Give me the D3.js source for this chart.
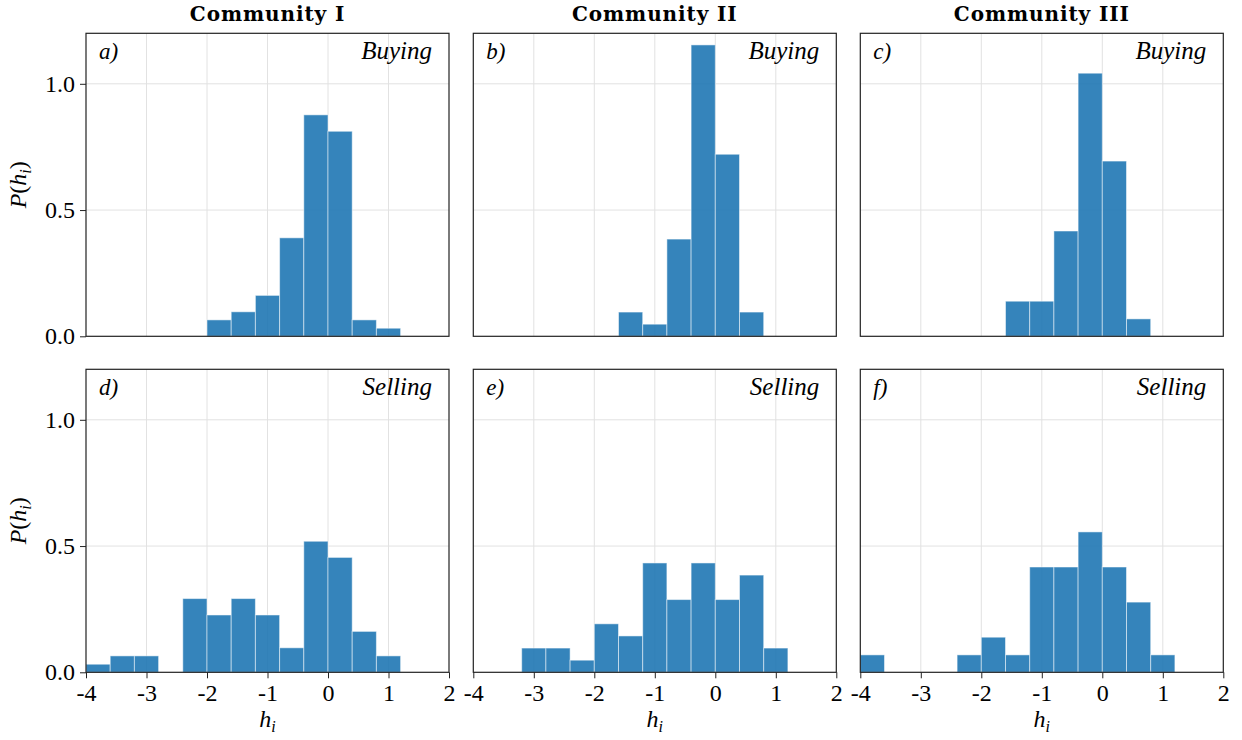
<!DOCTYPE html>
<html>
<head>
<meta charset="utf-8">
<script src="https://cdn.jsdelivr.net/npm/d3@7"></script>
<style>
  body { margin: 0; background: #fff; }
  svg text { font-family: "Liberation Serif", "Times New Roman", serif; fill: #000; }
  svg text.title { font-family: "DejaVu Serif", serif; font-weight: bold; }
</style>
</head>
<body>
<div id="chart"></div>
<script>
// bin left edges (width 0.4)
const binStarts = [-4.0, -3.6, -3.2, -2.8, -2.4, -2.0, -1.6, -1.2, -0.8, -0.4, 0.0, 0.4, 0.8];
const binWidth = 0.4;

const communities = ["Community I", "Community II", "Community III"];
const rowNames = ["Buying", "Selling"];
const panelTags = ["a)", "b)", "c)", "d)", "e)", "f)"];

// densities per bin
const buyingI   = [0, 0, 0, 0, 0, 0.065, 0.097, 0.162, 0.390, 0.877, 0.812, 0.065, 0.032];
const buyingII  = [0, 0, 0, 0, 0, 0, 0.096, 0.048, 0.385, 1.154, 0.721, 0.096, 0];
const buyingIII = [0, 0, 0, 0, 0, 0, 0.139, 0.139, 0.417, 1.042, 0.694, 0.069, 0];
const sellingI   = [0.032, 0.065, 0.065, 0, 0.292, 0.227, 0.292, 0.227, 0.097, 0.519, 0.455, 0.162, 0.065];
const sellingII  = [0, 0, 0.096, 0.096, 0.048, 0.192, 0.144, 0.433, 0.288, 0.433, 0.288, 0.385, 0.096];
const sellingIII = [0.069, 0, 0, 0, 0.069, 0.139, 0.069, 0.417, 0.417, 0.556, 0.417, 0.278, 0.069];

const panelData = [buyingI, buyingII, buyingIII, sellingI, sellingII, sellingIII];

const xTicks = [-4, -3, -2, -1, 0, 1, 2];
const yTicks = [0.0, 0.5, 1.0];

const width = 1242, height = 740;
const colLeft = [86, 473.3, 860.3];
const rowTop = [33.3, 369.3];
const pw = 363, ph = 303;
const serif = '"Liberation Serif", "Times New Roman", serif';

const svg = d3.select("#chart").append("svg")
    .attr("width", width)
    .attr("height", height);

const x = d3.scaleLinear().domain([-4, 2]).range([0, pw]);
const y = d3.scaleLinear().domain([0, 1.2]).range([ph, 0]);

// column titles
communities.forEach((c, i) => {
    svg.append("text")
        .attr("class", "title")
        .attr("x", colLeft[i] + pw / 2)
        .attr("y", 21)
        .attr("text-anchor", "middle")
        .style("font-size", "20px")
        .style("letter-spacing", "0.9px")
        .text(c);
});

panelData.forEach((vals, p) => {
    const row = Math.floor(p / 3), col = p % 3;
    const g = svg.append("g")
        .attr("transform", `translate(${colLeft[col]},${rowTop[row]})`);

    // grid
    g.append("g").selectAll("line.vg")
        .data(xTicks.slice(1, -1))
        .enter().append("line")
        .attr("x1", d => x(d)).attr("x2", d => x(d))
        .attr("y1", 0).attr("y2", ph)
        .attr("stroke", "#e2e2e2").attr("stroke-width", 1);
    g.append("g").selectAll("line.hg")
        .data(yTicks.slice(1))
        .enter().append("line")
        .attr("x1", 0).attr("x2", pw)
        .attr("y1", d => y(d)).attr("y2", d => y(d))
        .attr("stroke", "#e2e2e2").attr("stroke-width", 1);

    // bars
    const bins = binStarts.map((b, i) => ({x0: b, x1: b + binWidth, v: vals[i]}))
        .filter(d => d.v > 0);
    g.append("g").selectAll("rect")
        .data(bins)
        .enter().append("rect")
        .attr("x", d => x(d.x0))
        .attr("width", d => x(d.x1) - x(d.x0))
        .attr("y", d => y(d.v))
        .attr("height", d => y(0) - y(d.v))
        .attr("fill", "#1f77b4")
        .attr("fill-opacity", 0.9)
        .attr("stroke", "#fff")
        .attr("stroke-opacity", 0.5)
        .attr("stroke-width", 1);

    // frame
    g.append("rect")
        .attr("x", 0).attr("y", 0)
        .attr("width", pw).attr("height", ph)
        .attr("fill", "none")
        .attr("stroke", "#222")
        .attr("stroke-width", 1.2);

    // y axis on first column
    if (col === 0) {
        const ya = g.append("g")
            .call(d3.axisLeft(y).tickValues(yTicks).tickSize(6).tickPadding(5).tickFormat(d3.format(".1f")))
            .attr("font-family", null).attr("font-size", null);
        ya.select(".domain").remove();
        ya.selectAll("line").attr("stroke", "#222");
        ya.selectAll("text")
            .style("font-family", serif)
            .style("font-size", "24px")
            .attr("fill", "#000");

        const yl = g.append("text")
            .attr("transform", `translate(${-60},${ph / 2}) rotate(-90)`)
            .attr("text-anchor", "middle")
            .style("font-size", "24px")
            .style("font-style", "italic");
        yl.append("tspan").text("P");
        yl.append("tspan").style("font-style", "normal").text("(");
        yl.append("tspan").text("h");
        yl.append("tspan").attr("dy", 5).style("font-size", "16px").text("i");
        yl.append("tspan").attr("dy", -5).style("font-style", "normal").text(")");
    }

    // x axis on bottom row
    if (row === 1) {
        const xa = g.append("g")
            .attr("transform", `translate(0,${ph})`)
            .call(d3.axisBottom(x).tickValues(xTicks).tickSize(6).tickPadding(6).tickFormat(d => d))
            .attr("font-family", null).attr("font-size", null);
        xa.select(".domain").remove();
        xa.selectAll("line").attr("stroke", "#222");
        xa.selectAll("text")
            .style("font-family", serif)
            .style("font-size", "24px")
            .attr("fill", "#000");

        const xl = g.append("text")
            .attr("x", pw / 2)
            .attr("y", ph + 55)
            .attr("text-anchor", "middle")
            .style("font-size", "24px")
            .style("font-style", "italic");
        xl.append("tspan").text("h");
        xl.append("tspan").attr("dy", 5).style("font-size", "16px").text("i");
    }

    // panel tag and row label
    g.append("text")
        .attr("x", 13).attr("y", 26)
        .style("font-size", "23px")
        .style("font-style", "italic")
        .text(panelTags[p]);
    g.append("text")
        .attr("x", pw - 17).attr("y", 26)
        .attr("text-anchor", "end")
        .style("font-size", "25px")
        .style("font-style", "italic")
        .text(rowNames[row]);
});
</script>
</body>
</html>
